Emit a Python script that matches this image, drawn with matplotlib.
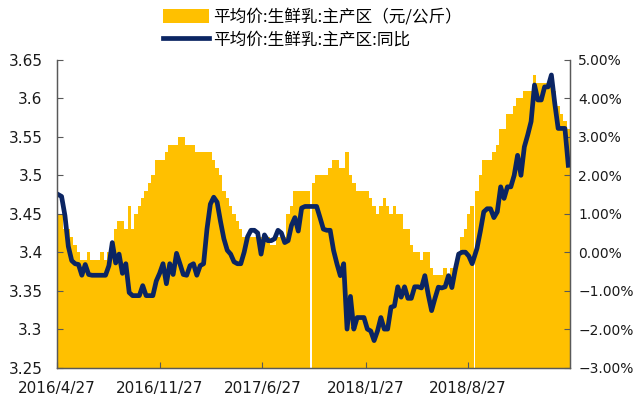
import matplotlib
matplotlib.use("Agg")
import matplotlib.pyplot as plt
from matplotlib.patches import Patch
from matplotlib.lines import Line2D
import pandas as pd
import numpy as np

# ---- data (weekly) ----
start_date = "2016-04-27"
gap_index = [75, 123]  # data weeks following a holiday gap

price = [
    3.45, 3.45, 3.43, 3.43, 3.42, 3.41, 3.40, 3.39, 3.39, 3.40,
    3.39, 3.39, 3.39, 3.40, 3.39, 3.40, 3.41, 3.43, 3.44, 3.44,
    3.43, 3.46, 3.43, 3.45, 3.46, 3.47, 3.48, 3.49, 3.50, 3.52,
    3.52, 3.52, 3.53, 3.54, 3.54, 3.54, 3.55, 3.55, 3.54, 3.54,
    3.54, 3.53, 3.53, 3.53, 3.53, 3.53, 3.52, 3.51, 3.50, 3.48,
    3.47, 3.46, 3.45, 3.44, 3.43, 3.42, 3.42, 3.42, 3.42, 3.42,
    3.42, 3.42, 3.42, 3.41, 3.41, 3.42, 3.42, 3.42, 3.45, 3.46,
    3.48, 3.48, 3.48, 3.48, 3.48, 3.49, 3.50, 3.50, 3.50, 3.50,
    3.51, 3.52, 3.52, 3.51, 3.51, 3.53, 3.50, 3.49, 3.48, 3.48,
    3.48, 3.48, 3.47, 3.46, 3.45, 3.46, 3.47, 3.46, 3.45, 3.46,
    3.45, 3.45, 3.43, 3.43, 3.41, 3.40, 3.40, 3.39, 3.40, 3.40,
    3.38, 3.37, 3.37, 3.37, 3.38, 3.37, 3.38, 3.38, 3.40, 3.42,
    3.43, 3.45, 3.46, 3.48, 3.50, 3.52, 3.52, 3.52, 3.53, 3.54,
    3.56, 3.56, 3.58, 3.58, 3.59, 3.60, 3.60, 3.61, 3.61, 3.61,
    3.63, 3.62, 3.62, 3.62, 3.62, 3.62, 3.61, 3.59, 3.58, 3.57,
    3.56,
]

yoy = [
    1.50, 1.45, 0.95, 0.15, -0.22, -0.30, -0.32, -0.60, -0.32, -0.58,
    -0.60, -0.60, -0.60, -0.60, -0.60, -0.35, 0.25, -0.28, -0.05, -0.55,
    -0.30, -1.05, -1.13, -1.13, -1.13, -0.87, -1.13, -1.13, -1.13, -0.75,
    -0.55, -0.30, -0.82, -0.30, -0.58, -0.03, -0.30, -0.58, -0.60, -0.35,
    -0.30, -0.60, -0.35, -0.30, 0.60, 1.25, 1.43, 1.30, 0.80, 0.35,
    0.05, -0.05, -0.25, -0.30, -0.30, 0.00, 0.40, 0.57, 0.57, 0.50,
    -0.05, 0.45, 0.30, 0.30, 0.35, 0.57, 0.50, 0.25, 0.30, 0.70,
    0.90, 0.55, 1.15, 1.19, 1.19, 1.19, 1.19, 0.90, 0.60, 0.57,
    0.57, 0.05, -0.30, -0.61, -0.30, -2.00, -1.15, -2.00, -1.70, -1.70,
    -1.70, -2.00, -2.05, -2.30, -2.05, -1.70, -2.00, -2.00, -1.43, -1.40,
    -0.90, -1.17, -0.90, -1.20, -1.20, -0.90, -0.90, -0.93, -0.61, -1.10,
    -1.52, -1.20, -0.91, -0.93, -0.90, -0.61, -0.92, -0.45, -0.05, 0.00,
    0.00, -0.10, -0.30, 0.10, 0.55, 1.05, 1.13, 1.13, 0.90, 1.05,
    1.70, 1.40, 1.70, 1.70, 2.00, 2.52, 2.00, 2.74, 3.05, 3.40,
    4.35, 3.96, 3.96, 4.30, 4.30, 4.61, 3.87, 3.22, 3.22, 3.22,
    2.26,
]

xtick_labels = ["2016/4/27", "2016/11/27", "2017/6/27", "2018/1/27", "2018/8/27"]
legend_labels = ["平均价:生鲜乳:主产区（元/公斤）", "平均价:生鲜乳:主产区:同比"]

# dates: weekly, with a few extra days after holiday gaps
n = len(price)
offset_days = np.arange(n) * 7
for g in gap_index:
    offset_days[g:] += 3
dates = pd.Timestamp(start_date) + pd.to_timedelta(offset_days, unit="D")
centers = dates + pd.Timedelta(days=3.5)

BAR = "#FFC000"
LINE = "#0B2563"

fig = plt.figure(figsize=(6.37, 4.01), dpi=100)
ax = fig.add_axes([0.0887, 0.0835, 0.8061, 0.7669])
ax2 = ax.twinx()

ax.bar(dates, price, width=7.0, align="edge", color=BAR, linewidth=0)
ax2.plot(centers, yoy, color=LINE, linewidth=3.4, solid_joinstyle="round")

ax.set_ylim(3.25, 3.65)
ax.set_yticks(np.arange(3.25, 3.651, 0.05))
ax.set_yticklabels([f"{v:g}" for v in np.round(np.arange(3.25, 3.651, 0.05), 2)])
ax2.set_ylim(-3, 5)
ax2.set_yticks(np.arange(-3, 5.01, 1))
ax2.set_yticklabels([f"{v:.2f}%".replace("-", "\u2212") for v in np.arange(-3, 5.01, 1)])

xmin = pd.Timestamp(start_date)
xmax = dates[-1] + pd.Timedelta(days=7)
ax.set_xlim(xmin, xmax)
ax.set_xticks([pd.Timestamp(s.replace("/", "-")) for s in xtick_labels])
ax.set_xticklabels(xtick_labels)

for a in (ax, ax2):
    a.spines["top"].set_visible(False)
    for s in ("left", "right", "bottom"):
        a.spines[s].set_color("#595959")
        a.spines[s].set_linewidth(0.9)
    a.tick_params(direction="in", length=4, width=0.8, color="#595959",
                  labelsize=11, labelcolor="#1a1a1a")
ax.tick_params(axis="y", pad=10)
ax.tick_params(axis="x", pad=10)
ax2.tick_params(axis="y", pad=6, labelsize=10)

handles = [Patch(facecolor=BAR, edgecolor="none"),
           Line2D([0], [0], color=LINE, linewidth=3.4)]
fig.legend(handles, legend_labels, loc="upper center", bbox_to_anchor=(0.49, 1.015),
           frameon=False, ncol=1, handlelength=2.8, handleheight=0.9,
           handletextpad=0.2, labelspacing=0.35,
           prop={"family": ["Noto Sans CJK SC", "DejaVu Sans"], "size": 12})

fig.savefig("out.png", dpi=100)
